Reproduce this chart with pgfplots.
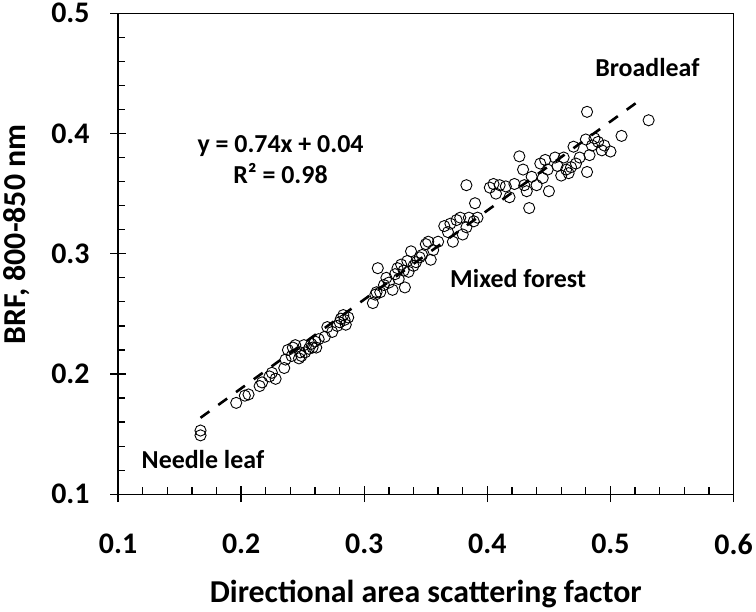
\documentclass[border=0pt]{standalone}
\usepackage{fontspec}
\setmainfont{Carlito}
\usepackage{pgfplots}
\pgfplotsset{compat=1.18}

\pgfplotstableread{
x y
0.167 0.153
0.167 0.149
0.196 0.176
0.203 0.182
0.206 0.183
0.215 0.190
0.217 0.193
0.223 0.198
0.225 0.201
0.228 0.196
0.235 0.205
0.236 0.212
0.238 0.220
0.241 0.215
0.242 0.222
0.244 0.224
0.247 0.213
0.248 0.218
0.249 0.215
0.251 0.224
0.252 0.218
0.255 0.221
0.257 0.225
0.258 0.222
0.260 0.227
0.261 0.222
0.263 0.229
0.268 0.231
0.270 0.239
0.274 0.235
0.278 0.240
0.280 0.243
0.281 0.246
0.283 0.249
0.284 0.245
0.285 0.241
0.287 0.247
0.307 0.259
0.309 0.266
0.310 0.268
0.311 0.288
0.313 0.268
0.316 0.274
0.318 0.280
0.320 0.276
0.323 0.270
0.325 0.283
0.327 0.288
0.328 0.279
0.330 0.291
0.332 0.286
0.333 0.272
0.335 0.294
0.336 0.285
0.338 0.302
0.340 0.290
0.342 0.293
0.345 0.297
0.347 0.299
0.350 0.308
0.352 0.310
0.354 0.295
0.356 0.303
0.360 0.310
0.365 0.323
0.368 0.318
0.370 0.325
0.372 0.310
0.375 0.328
0.378 0.330
0.380 0.316
0.383 0.357
0.383 0.322
0.385 0.330
0.389 0.327
0.390 0.342
0.392 0.330
0.402 0.355
0.405 0.358
0.407 0.350
0.410 0.357
0.415 0.356
0.418 0.347
0.422 0.358
0.426 0.381
0.429 0.370
0.430 0.357
0.432 0.352
0.434 0.338
0.436 0.364
0.440 0.357
0.443 0.375
0.445 0.363
0.447 0.378
0.450 0.352
0.449 0.370
0.455 0.380
0.457 0.373
0.460 0.365
0.462 0.380
0.464 0.370
0.466 0.367
0.468 0.372
0.470 0.389
0.472 0.375
0.475 0.380
0.480 0.395
0.481 0.418
0.481 0.368
0.483 0.382
0.485 0.390
0.487 0.396
0.490 0.393
0.493 0.386
0.495 0.390
0.500 0.385
0.509 0.398
0.531 0.411
}\brfdata

\begin{document}
\begin{tikzpicture}
\begin{axis}[
    scale only axis,
    width=618pt,
    height=483pt,
    xmin=0.1, xmax=0.6,
    ymin=0.1, ymax=0.5,
    xtick={0.1,0.2,...,0.6},
    ytick={0.1,0.2,...,0.5},
    minor tick num=4,
    xtick pos=bottom,
    ytick pos=left,
    tick align=inside,
    major tick length=16pt,
    minor tick length=7pt,
    every major x tick/.append style={yshift=-8pt},
    every major y tick/.append style={xshift=-8pt},
    tick style={black, line width=1.3pt},
    axis line style={black, line width=1.3pt},
    /pgf/number format/assume math mode=true,
    /pgf/number format/fixed,
    /pgf/number format/precision=1,
    /pgf/number format/fixed zerofill,
    xticklabel style={font=\fontsize{30}{36}\selectfont\bfseries, yshift=-36pt},
    yticklabel style={font=\fontsize{30}{36}\selectfont\bfseries, xshift=-25pt},
    xlabel={Directional area scattering factor},
    ylabel={BRF, 800-850 nm},
    xlabel style={font=\fontsize{32}{38}\selectfont\bfseries, at={(axis description cs:0.5,-0.207)}, anchor=center},
    ylabel style={font=\fontsize{32}{38}\selectfont\bfseries, at={(axis description cs:-0.165,0.54)}, anchor=center, rotate=0},
    clip=false,
]
\addplot[only marks, mark=o, mark size=5.6pt, mark options={line width=0.9pt, black}] table[x=x, y=y] {\brfdata};
\addplot[black, line width=2.6pt, dash pattern=on 11pt off 11pt] coordinates {(0.167,0.1636) (0.526,0.4292)};
\node[font=\fontsize{26}{31}\selectfont\bfseries, align=center] at (axis cs:0.232,0.378) {y = 0.74x + 0.04\\R² = 0.98};
\node[font=\fontsize{26}{31}\selectfont\bfseries] at (axis cs:0.530,0.455) {Broadleaf};
\node[font=\fontsize{26}{31}\selectfont\bfseries] at (axis cs:0.425,0.279) {Mixed forest};
\node[font=\fontsize{26}{31}\selectfont\bfseries] at (axis cs:0.169,0.129) {Needle leaf};
\end{axis}
\end{tikzpicture}
\end{document}
